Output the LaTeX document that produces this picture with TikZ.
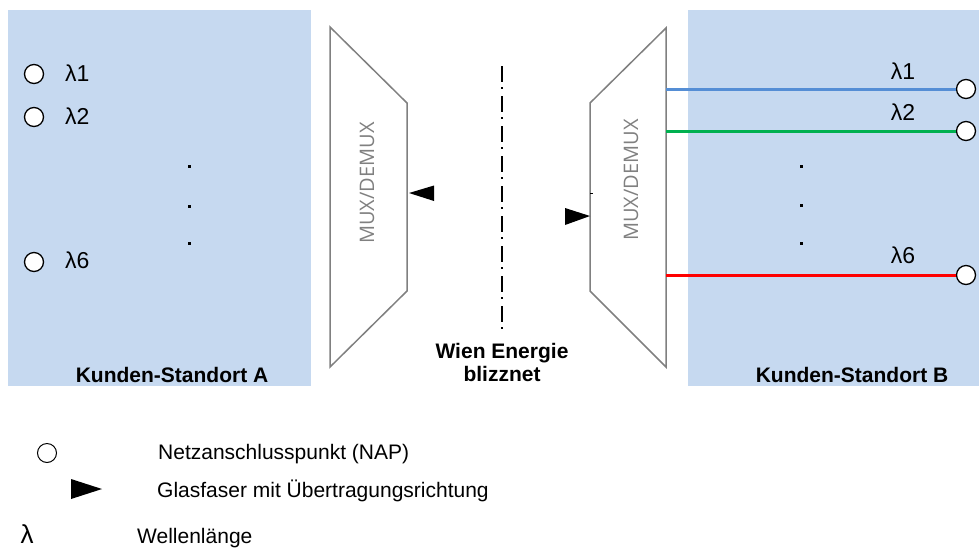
\documentclass[tikz,border=0pt]{standalone}
\usepackage{fontspec}
\setmainfont{Liberation Sans}
\newfontfamily\muxfont{Open Sans}
\definecolor{panel}{RGB}{198,217,240}
\definecolor{muxgray}{RGB}{128,128,128}
\definecolor{lblue}{RGB}{85,142,213}
\definecolor{lgreen}{RGB}{0,176,80}
\definecolor{lred}{RGB}{255,0,0}
\begin{document}
\begin{tikzpicture}[x=1pt,y=-1pt,
  nap/.style={circle,draw=black,line width=1.3pt,fill=white,minimum size=19pt,inner sep=0pt},
  lam/.style={font=\fontsize{23}{26}\selectfont,inner sep=0pt},
  bold/.style={font=\fontsize{21}{24}\selectfont\bfseries,inner sep=0pt},
  legend/.style={font=\fontsize{21}{24}\selectfont,inner sep=0pt,anchor=base west},
  mux/.style={draw=muxgray,line width=1.5pt,line join=miter},
  muxtext/.style={font=\muxfont\fontsize{20}{22}\selectfont,text=muxgray,rotate=90,inner sep=0pt},
  fiber/.style={line width=3pt},
  tri/.style={fill=black},
  dotsq/.style={fill=black}
]
\useasboundingbox (0,0) rectangle (979,547);
% panels
\fill[panel] (8,10) rectangle (311,386);
\fill[panel] (688,10) rectangle (979,386);
% left site
\node[nap] (a1) at (34,74) {};
\node[nap] (a2) at (34,117) {};
\node[nap] (a6) at (34,262) {};
\node[lam,anchor=base west] (la1) at (65,81) {λ1};
\node[lam,anchor=base west] (la2) at (65,124) {λ2};
\node[lam,anchor=base west] (la6) at (65,268) {λ6};
\foreach \y in {166,206,243} \fill[dotsq] (187.5,\y-1.5) rectangle +(3,3);
\node[bold,anchor=base] (ka) at (172,382) {Kunden-Standort A};
% left mux
\draw[mux] (330,27) -- (407,103) -- (407,291) -- (330,367) -- cycle;
\node[muxtext] (muxa) at (367,183) {MUX/DEMUX};
\fill[tri] (409,193) -- (434,185.5) -- (434,201) -- cycle;
% center
\draw[line width=1.2pt,dash pattern=on 16pt off 5pt on 2pt off 7pt] (502,66) -- (502,330);
\node[bold,anchor=base] (we) at (502,358) {Wien Energie};
\node[bold,anchor=base] (bz) at (502,381) {blizznet};
% right mux
\draw[mux] (666,28) -- (590,103) -- (590,291) -- (666,367) -- cycle;
\node[muxtext] (muxb) at (631,180) {MUX/DEMUX};
\fill[tri] (590,216) -- (565,208) -- (565,225) -- cycle;
\draw[line width=1pt] (590,193) -- (593,193);
% right site
\node[nap] (b1) at (966,89) {};
\node[nap] (b2) at (966,131) {};
\node[nap] (b6) at (966,275) {};
\coordinate (m1) at (666,89);
\coordinate (m2) at (666,131);
\coordinate (m6) at (666,275);
\draw[fiber,lblue] (m1) -- (b1);
\draw[fiber,lgreen] (m2) -- (b2);
\draw[fiber,lred] (m6) -- (b6);
\node[lam,anchor=base] (lb1) at (903,79) {λ1};
\node[lam,anchor=base] (lb2) at (903,120) {λ2};
\node[lam,anchor=base] (lb6) at (903,263) {λ6};
\foreach \y in {166,205,243} \fill[dotsq] (799.5,\y-1.5) rectangle +(3,3);
\node[bold,anchor=base] (kb) at (852,382) {Kunden-Standort B};
% legend
\node[nap,line width=1pt] (lnap) at (47,453) {};
\node[legend] (tnap) at (158,459.5) {Netzanschlusspunkt (NAP)};
\fill[tri] (102,489) -- (71,479) -- (71,499) -- cycle;
\node[legend] (tgf) at (157,497) {Glasfaser mit Übertragungsrichtung};
\node[font=\fontsize{26}{28}\selectfont,inner sep=0pt,anchor=base] (llam) at (27,543) {λ};
\node[legend] (twl) at (137,543) {Wellenlänge};
\end{tikzpicture}
\end{document}
